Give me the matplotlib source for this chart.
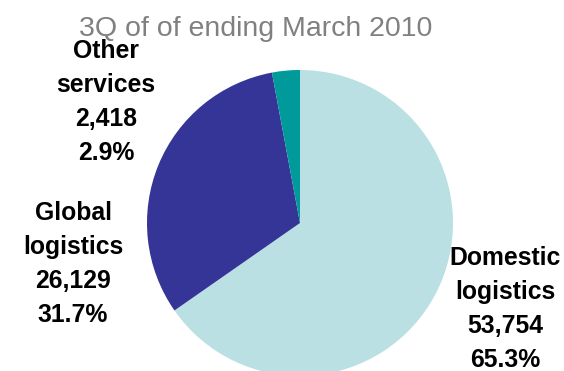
import matplotlib
matplotlib.use("Agg")
import matplotlib.pyplot as plt

# Segment data
segments = ["Domestic\nlogistics", "Global\nlogistics", "Other\nservices"]
values = [53754, 26129, 2418]
shares = [65.3, 31.7, 2.9]
colors = ["#BAE0E3", "#353597", "#009A9A"]

# label anchor (x, baseline of first line) in pixel units, y measured from top
label_pos = [(505, 265), (73, 220), (106, 58)]

plt.rcParams["font.family"] = ["Liberation Sans", "DejaVu Sans"]

W, H = 564, 371
fig = plt.figure(figsize=(W / 100, H / 100), dpi=100)
ax = fig.add_axes([0, 0, 1, 1])

ax.pie(values, colors=colors, startangle=90, counterclock=False,
       center=(300, H - 223), radius=153, frame=True,
       wedgeprops=dict(linewidth=0))
ax.set_xlim(0, W)
ax.set_ylim(0, H)
ax.set_aspect("equal")
ax.axis("off")

ax.text(256, H - 36, "3Q of of ending March 2010", color="#808080",
        fontsize=20.5, ha="center", va="baseline")

for name, val, pct, (x, y) in zip(segments, values, shares, label_pos):
    lines = name.split("\n") + [f"{val:,}", f"{pct:.1f}%"]
    for i, line in enumerate(lines):
        ax.text(x, H - (y + i * 34), line, fontsize=17.8, fontweight="bold",
                ha="center", va="baseline", color="black")

fig.savefig("out.png", dpi=100)
